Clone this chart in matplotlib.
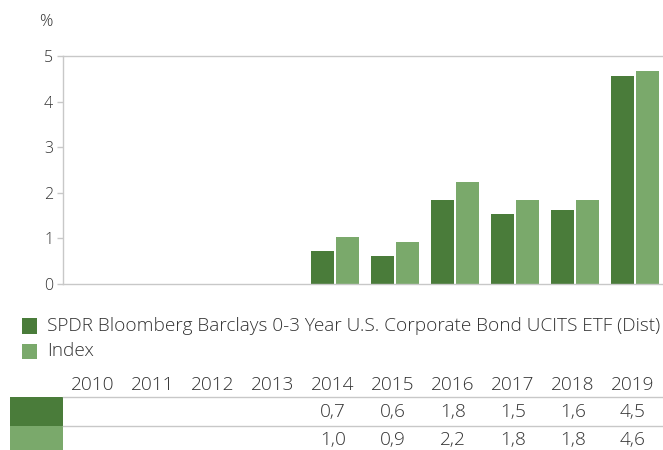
import matplotlib.pyplot as plt
from matplotlib.patches import Rectangle
from matplotlib.lines import Line2D
from matplotlib.transforms import blended_transform_factory
import numpy as np

plt.rcParams['font.family'] = ['Open Sans', 'DejaVu Sans']
plt.rcParams['font.weight'] = 'light'

# Data
years = ["2010", "2011", "2012", "2013", "2014", "2015", "2016", "2017", "2018", "2019"]
fund = [None, None, None, None, 0.72, 0.61, 1.84, 1.53, 1.62, 4.56]
index = [None, None, None, None, 1.03, 0.92, 2.24, 1.84, 1.84, 4.67]
fund_labels = ["", "", "", "", "0,7", "0,6", "1,8", "1,5", "1,6", "4,5"]
index_labels = ["", "", "", "", "1,0", "0,9", "2,2", "1,8", "1,8", "4,6"]
series_names = ["SPDR Bloomberg Barclays 0-3 Year U.S. Corporate Bond UCITS ETF (Dist)", "Index"]

dark = "#4a7c3a"
light = "#7aa96b"
grey = "#c8c8c8"
txt = "#333333"

W, H = 663, 450
def fx(px):
    return px / W
def fy(py):
    return 1 - py / H

fig = plt.figure(figsize=(W / 100, H / 100), dpi=100)
ax = fig.add_axes([fx(63), fy(284), fx(663) - fx(63), fy(56) - fy(284)])

x = np.arange(len(years))
fv = np.array([np.nan if v is None else v for v in fund])
iv = np.array([np.nan if v is None else v for v in index])
bw = 0.383
ax.bar(x + 0.03 - 0.208, fv, width=bw, color=dark, lw=0)
ax.bar(x + 0.03 + 0.208, iv, width=bw, color=light, lw=0)

ax.set_xlim(-0.5, 9.5)
ax.set_ylim(0, 5)
ax.set_yticks([0, 1, 2, 3, 4, 5])
ax.set_xticks([])
ax.tick_params(axis='y', colors=grey, labelcolor=txt, labelsize=11.5, length=4, width=1, pad=3)
for s in ['left', 'top', 'bottom']:
    ax.spines[s].set_color(grey)
    ax.spines[s].set_linewidth(1)
ax.spines['right'].set_visible(False)
fig.text(fx(39), fy(22), "%", fontsize=12, color=txt, va='center', ha='left')

fs = 13.7
# legend
for i, (name, c) in enumerate(zip(series_names, [dark, light])):
    yc = 326 + i * 25.5
    fig.patches.append(Rectangle((fx(22), fy(yc + 7.5)), fx(15), fy(yc - 7.5) - fy(yc + 7.5),
                                 transform=fig.transFigure, color=c, lw=0))
    fig.text(fx(47), fy(yc), name, fontsize=fs, color=txt, va='center', ha='left')

# table
tr = blended_transform_factory(ax.transData, fig.transFigure)
for i in range(len(years)):
    fig.text(x[i], fy(385), years[i], transform=tr, fontsize=fs, color=txt, ha='center', va='center')
    fig.text(x[i], fy(412), fund_labels[i], transform=tr, fontsize=fs, color=txt, ha='center', va='center')
    fig.text(x[i], fy(440), index_labels[i], transform=tr, fontsize=fs, color=txt, ha='center', va='center')

for py in [397, 426]:
    fig.lines.append(Line2D([fx(63), 1], [fy(py), fy(py)], transform=fig.transFigure, color=grey, lw=1))
fig.patches.append(Rectangle((fx(10), fy(426)), fx(53), fy(397) - fy(426), transform=fig.transFigure, color=dark, lw=0))
fig.patches.append(Rectangle((fx(10), fy(452)), fx(53), fy(426) - fy(452), transform=fig.transFigure, color=light, lw=0))

fig.savefig("out.png", dpi=100)
